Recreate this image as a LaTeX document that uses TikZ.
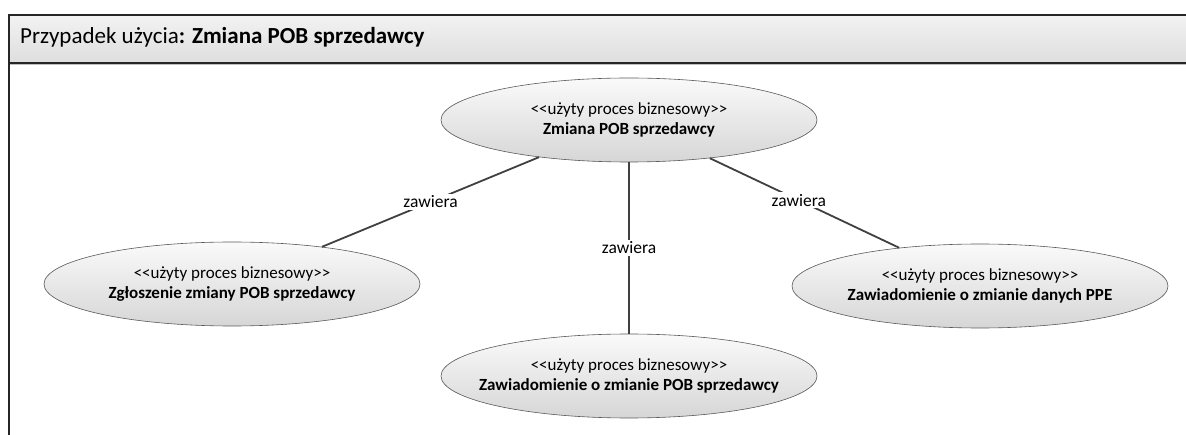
\documentclass[tikz,border=0pt]{standalone}
\usepackage{fontspec}
\setmainfont{Carlito}
\usetikzlibrary{shapes.geometric}
\newcommand{\stereo}{<\kern0pt<użyty proces biznesowy>\kern0pt>}
\tikzset{
  uc/.style={ellipse, draw=black!65, line width=0.6pt, top color=black!2, bottom color=black!16, minimum width=376pt, minimum height=84pt, inner sep=0pt},
  uctext/.style={align=center, inner sep=0pt, font=\fontsize{17}{20.5}\selectfont},
  conn/.style={draw=black!75, line width=1.8pt},
  lbl/.style={fill=white, inner sep=2pt, font=\fontsize{17.5}{20}\selectfont}
}
\begin{document}
\begin{tikzpicture}[x=1pt,y=-1pt]
\useasboundingbox (0,0) rectangle (1186,435);
\fill[white] (0,0) rectangle (1186,435);
% frame
\shade[top color=black!5, bottom color=black!13] (9,15) rectangle (1190,63);
\draw[line width=0.8pt, black!25] (9,64.5) -- (1190,64.5);
\draw[line width=1.3pt, black!85] (1190,15) -- (9,15) -- (9,440);
\draw[line width=1.3pt, black!85] (9,63) -- (1190,63);
\node[anchor=base west, inner sep=0pt, font=\fontsize{23}{25}\selectfont] (title) at (20,44) {Przypadek użycia\textbf{: Zmiana POB sprzedawcy}};
% use cases
\node[uc] (main) at (629,120) {};
\node[uctext] (maint) at (main.center) {\stereo\\\textbf{Zmiana POB sprzedawcy}};
\node[uc] (left) at (232,284) {};
\node[uctext] (leftt) at (left.center) {\stereo\\\textbf{Zgłoszenie zmiany POB sprzedawcy}};
\node[uc] (right) at (980,286) {};
\node[uctext] (rightt) at (right.center) {\stereo\\\textbf{Zawiadomienie o zmianie danych PPE}};
\node[uc] (bottom) at (629,376) {};
\node[uctext] (bottomt) at (bottom.center) {\stereo\\\textbf{Zawiadomienie o zmianie POB sprzedawcy}};
% connectors
\draw[conn] (main) -- node[lbl, pos=0.5] {zawiera} (left);
\draw[conn] (main) -- node[lbl, pos=0.5] {zawiera} (bottom);
\draw[conn] (main) -- node[lbl, pos=0.47] {zawiera} (right);
\end{tikzpicture}
\end{document}
